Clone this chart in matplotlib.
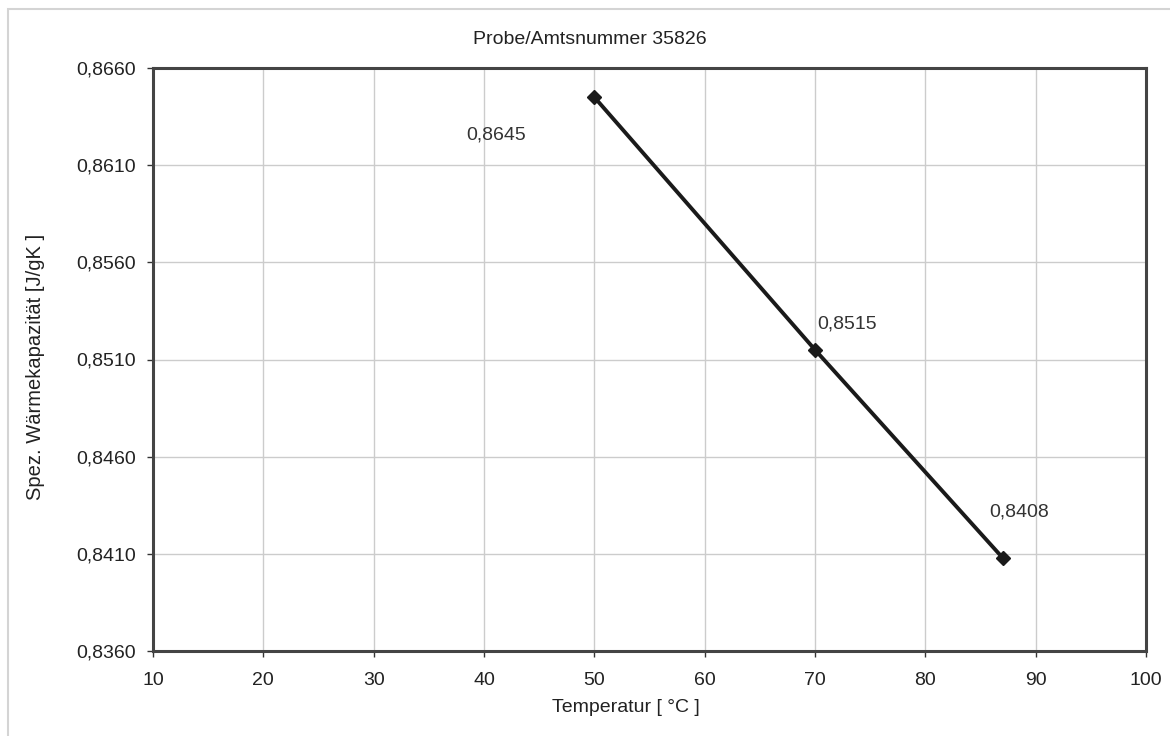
import matplotlib.pyplot as plt
from matplotlib.patches import Rectangle

plt.rcParams['font.family'] = ['Liberation Sans', 'DejaVu Sans']

temperatur = [50, 70, 87]
waermekapazitaet = [0.8645, 0.8515, 0.8408]
labels = ['0,8645', '0,8515', '0,8408']
label_offsets = [(-128, -38), (2, 26), (-13, 46)]  # pixels, left-center of text

x_ticks = list(range(10, 101, 10))
y_ticks = [0.8360, 0.8410, 0.8460, 0.8510, 0.8560, 0.8610, 0.8660]

fig = plt.figure(figsize=(11.7, 7.36), dpi=100)
fig.patches.append(Rectangle((8 / 1170, -0.1), 1.2, 1 - 9 / 736 + 0.1,
                             transform=fig.transFigure, fill=False,
                             edgecolor='#d4d4d4', linewidth=1.5))

ax = fig.add_axes([153 / 1170, 1 - 651 / 736, (1146 - 153) / 1170, (651 - 68) / 736])
ax.plot(temperatur, waermekapazitaet, color='#1a1a1a', linewidth=2.8,
        marker='D', markersize=7.5, zorder=3)

for x, y, txt, (dx, dy) in zip(temperatur, waermekapazitaet, labels, label_offsets):
    ax.annotate(txt, (x, y), xytext=(dx, dy), textcoords='offset pixels',
                ha='left', va='center', fontsize=14, color='#333333')

ax.set_xlim(10, 100)
ax.set_ylim(0.8360, 0.8660)
ax.set_xticks(x_ticks)
ax.set_yticks(y_ticks)
ax.set_yticklabels([('%.4f' % v).replace('.', ',') for v in y_ticks])
ax.tick_params(labelsize=14, colors='#333333', length=4, width=1,
               labelcolor='#222222')
ax.tick_params(axis='x', pad=11)
ax.tick_params(axis='y', pad=8)
ax.grid(True, color='#cccccc', linewidth=1)
ax.set_axisbelow(True)
for s in ax.spines.values():
    s.set_color('#444444')
    s.set_linewidth(2.2)

fig.text(590 / 1170, 1 - 40 / 736, 'Probe/Amtsnummer 35826', ha='center', va='center',
         fontsize=14, color='#222222')
fig.text(626 / 1170, 1 - 708 / 736, 'Temperatur [ °C ]', ha='center', va='center',
         fontsize=14, color='#222222')
fig.text(36 / 1170, 1 - 367 / 736, 'Spez. Wärmekapazität [J/gK ]', ha='center', va='center',
         rotation=90, fontsize=14.5, color='#222222')

fig.savefig('out.png', dpi=100)
